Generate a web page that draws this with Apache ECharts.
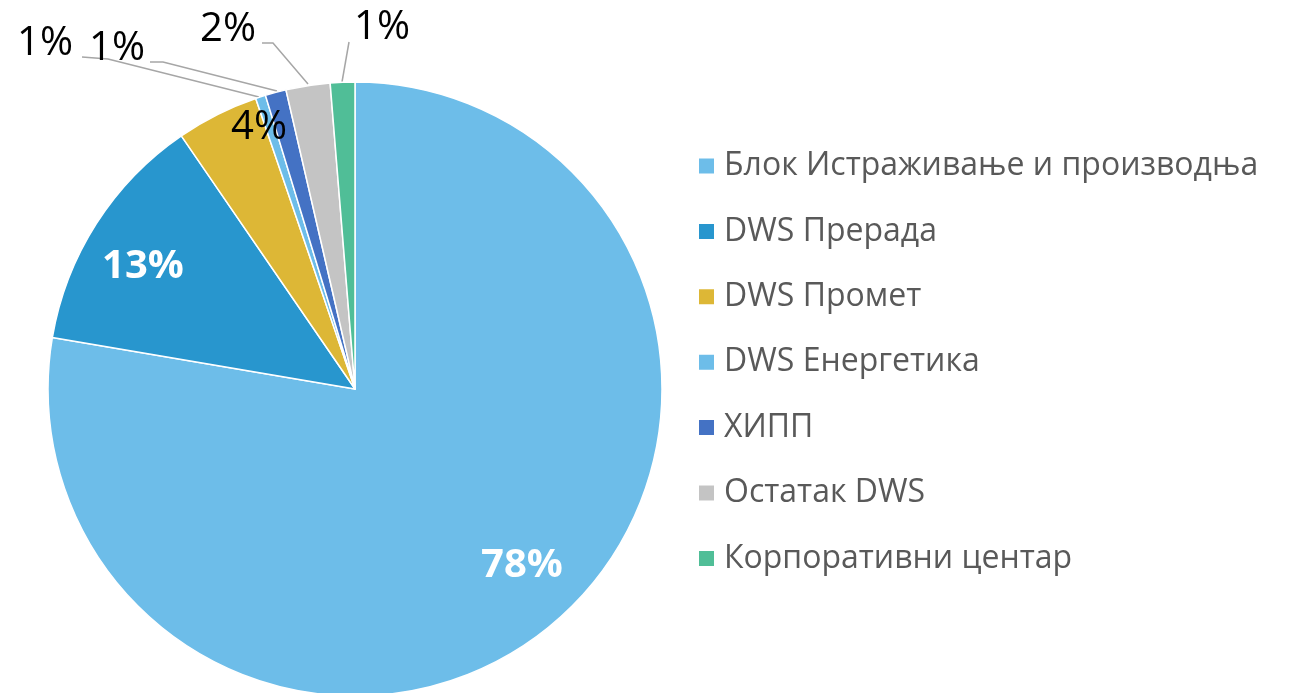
<!DOCTYPE html>
<html>
<head>
<meta charset="utf-8">
<script src="https://cdn.jsdelivr.net/npm/echarts@6/dist/echarts.min.js"></script>
<style>
  html, body { margin: 0; padding: 0; background: #fff; }
  #chart { width: 1299px; height: 693px; }
</style>
</head>
<body>
<div id="chart"></div>
<script>
const categories = [
  "Блок Истраживање и производња",
  "DWS Прерада",
  "DWS Промет",
  "DWS Енергетика",
  "ХИПП",
  "Остатак DWS",
  "Корпоративни центар",
];
const shares = [77.67, 12.75, 4.33, 0.53, 1.1, 2.32, 1.29];
const colors = ["#6dbde9", "#2896ce", "#ddb736", "#6dbde9", "#4472c4", "#c4c4c4", "#50be97"];

// label placement
const labelSpots = [
  { x: 522, y: 566 },
  { x: 143, y: 267 },
  { x: 259, y: 128 },
  { x: 45, y: 44, line: [[82, 57], [108, 59], [259, 97]] },
  { x: 117, y: 49, line: [[150, 62], [163, 62], [277, 91]] },
  { x: 228, y: 30, line: [[262, 43], [273, 43], [308, 84]] },
  { x: 382, y: 28, line: [[349, 42], [349, 42], [342, 82]] },
];

const FONT = "'Open Sans', sans-serif";

const chart = echarts.init(document.getElementById("chart"), null, { renderer: "canvas" });

const pieData = categories.map((name, i) => {
  const inner = i < 3;
  return {
    name,
    value: shares[i],
    itemStyle: { color: colors[i] },
    label: inner
      ? { color: i === 2 ? "#000" : "#fff", fontWeight: i === 2 ? "normal" : "bold" }
      : { color: "#000" },
    labelLine: { show: !inner },
  };
});

chart.setOption({
  animation: false,
  legend: {
    orient: "vertical",
    left: 697,
    top: 150,
    padding: 0,
    icon: "rect",
    itemWidth: 17,
    itemHeight: 17,
    itemGap: 33.4,
    data: categories,
    textStyle: {
      color: "#595959",
      fontFamily: FONT,
      fontSize: 32,
      lineHeight: 32,
      padding: [0, 0, 0, 4],
    },
  },
  series: [
    {
      type: "pie",
      center: [355, 389],
      radius: 307,
      startAngle: 90,
      clockwise: true,
      avoidLabelOverlap: false,
      minShowLabelAngle: 0,
      itemStyle: { borderColor: "#fff", borderWidth: 1.5 },
      label: {
        show: true,
        position: "outside",
        fontFamily: FONT,
        fontSize: 40,
        formatter: (p) => Math.round(p.percent) + "%",
      },
      labelLine: { show: true, lineStyle: { color: "#a6a6a6", width: 1.5 } },
      labelLayout: (params) => {
        const s = labelSpots[params.dataIndex];
        const out = { x: s.x, y: s.y, align: "center", verticalAlign: "middle" };
        if (s.line) out.labelLinePoints = s.line;
        return out;
      },
      emphasis: { disabled: true },
      data: pieData,
    },
  ],
});
</script>
</body>
</html>
